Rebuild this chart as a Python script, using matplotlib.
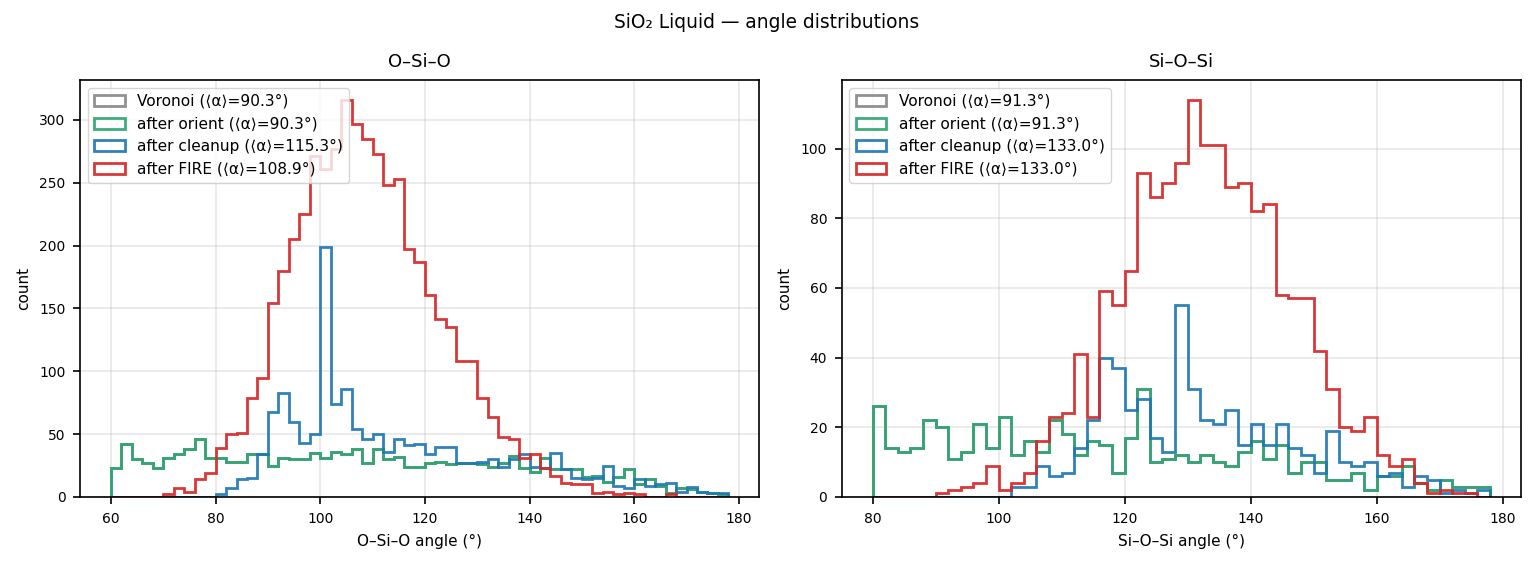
import numpy as np
import matplotlib
matplotlib.use('Agg')
import matplotlib.pyplot as plt

# O-Si-O histogram, bins of 2 deg from 60 to 178
osio_edges = np.arange(60, 179, 2)
osio_orient = [23, 42, 30, 27, 23, 31, 34, 38, 46, 31,
               31, 28, 28, 34, 34, 25, 31, 30, 30, 35,
               31, 36, 34, 38, 27, 38, 30, 32, 24, 24,
               27, 28, 26, 27, 27, 26, 24, 27, 33, 23,
               20, 31, 22, 22, 22, 16, 17, 12, 16, 22,
               10, 14, 9, 3, 7, 6, 4, 3, 2]
osio_voronoi = list(osio_orient)
osio_cleanup = [0, 0, 0, 0, 0, 0, 0, 0, 0, 0,
                2, 7, 14, 15, 34, 68, 83, 60, 43, 50,
                199, 74, 86, 54, 46, 50, 36, 46, 41, 42,
                34, 40, 40, 27, 27, 28, 30, 24, 30, 34,
                24, 23, 35, 22, 15, 14, 15, 25, 9, 7,
                14, 9, 10, 11, 4, 8, 4, 3, 3]
osio_fire = [0, 0, 0, 0, 0, 2, 7, 4, 14, 19,
             39, 50, 51, 79, 95, 154, 180, 205, 225, 271,
             261, 277, 316, 297, 285, 273, 248, 253, 197, 187,
             161, 142, 135, 108, 108, 79, 64, 48, 46, 31,
             34, 23, 17, 11, 10, 10, 3, 4, 2, 3,
             2, 0, 0, 2, 0, 0, 0, 0, 0]

# Si-O-Si histogram, bins of 2 deg from 80 to 178
sios_edges = np.arange(80, 179, 2)
sios_orient = [26, 14, 13, 14, 22, 20, 11, 13, 21, 14,
               23, 12, 16, 13, 22, 18, 12, 16, 15, 7,
               17, 31, 10, 11, 12, 10, 12, 10, 9, 13,
               16, 11, 15, 7, 10, 10, 5, 5, 7, 2,
               6, 6, 9, 4, 2, 5, 3, 3, 3]
sios_voronoi = list(sios_orient)
sios_cleanup = [0, 0, 0, 0, 0, 0, 0, 0, 0, 0,
                0, 3, 3, 9, 6, 7, 14, 22, 40, 37,
                25, 28, 17, 13, 55, 31, 22, 21, 25, 15,
                21, 15, 21, 14, 12, 7, 19, 10, 9, 10,
                6, 7, 3, 6, 5, 1, 2, 1, 2]
sios_fire = [0, 0, 0, 0, 0, 1, 2, 3, 4, 9,
             2, 4, 7, 16, 23, 24, 41, 23, 59, 55,
             65, 93, 86, 90, 96, 114, 101, 101, 89, 90,
             82, 84, 58, 57, 57, 42, 31, 20, 19, 23,
             12, 9, 11, 4, 1, 2, 1, 1, 0]

stages = ['Voronoi', 'after orient', 'after cleanup', 'after FIRE']
colors = ['#888888', '#2ca673', '#1f77b4', '#d62728']
osio_means = [90.3, 90.3, 115.3, 108.9]
sios_means = [91.3, 91.3, 133.0, 133.0]

panels = [
    ('O\u2013Si\u2013O', osio_edges,
     [osio_voronoi, osio_orient, osio_cleanup, osio_fire], osio_means),
    ('Si\u2013O\u2013Si', sios_edges,
     [sios_voronoi, sios_orient, sios_cleanup, sios_fire], sios_means),
]

fig, axes = plt.subplots(1, 2, figsize=(15.34, 5.62), dpi=100)
fig.subplots_adjust(left=0.0522, right=0.9915, bottom=0.1157, top=0.8577,
                    wspace=0.1215)

for ax, (name, edges, series, means) in zip(axes, panels):
    for lab, col, counts, m in zip(stages, colors, series, means):
        ax.hist(edges[:-1], bins=edges, weights=counts, histtype='step',
                color=col, lw=2.0, alpha=0.92,
                label='%s (\u27e8\u03b1\u27e9=%.1f\u00b0)' % (lab, m))
    ax.set_title(name, fontsize=13, pad=9)
    ax.set_xlabel(name + ' angle (\u00b0)', fontsize=11, labelpad=6)
    ax.set_ylabel('count', fontsize=11, labelpad=6)
    ax.tick_params(labelsize=10, length=5.25, width=1.2, pad=5.25)
    for sp in ax.spines.values():
        sp.set_linewidth(1.2)
    ax.grid(alpha=0.3, lw=1.2)
    ax.legend(loc='upper left', fontsize=11.1)

fig.suptitle('SiO\u2082 Liquid \u2014 angle distributions', fontsize=13.4, y=0.976)
plt.savefig('out.png', dpi=100)
